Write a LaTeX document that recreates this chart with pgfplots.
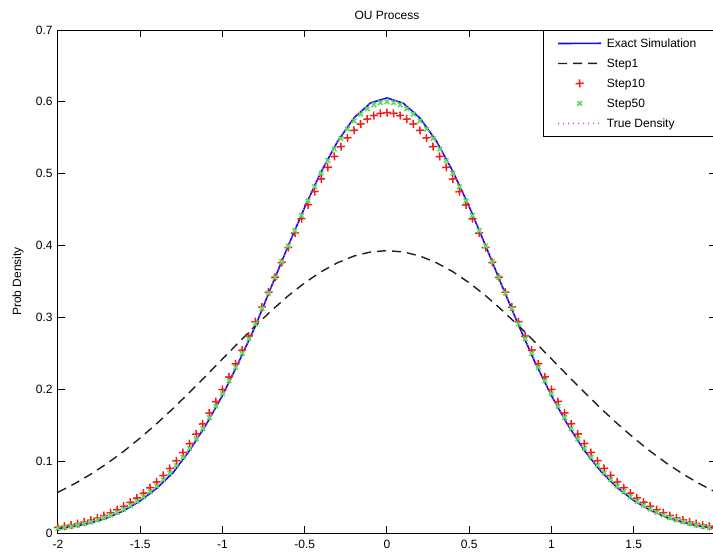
\documentclass[border=0pt]{standalone}
\usepackage{pgfplots}
\pgfplotsset{compat=1.18}
\usepackage{pgfplotstable}
\usepackage{fontspec}
\setmainfont{Liberation Sans}

\definecolor{mblue}{rgb}{0.05,0.05,0.95}
\definecolor{mred}{rgb}{0.97,0.1,0.1}
\definecolor{mgreen}{rgb}{0.35,0.88,0.35}
\definecolor{mmag}{rgb}{0.95,0.2,0.95}
\definecolor{mdash}{rgb}{0.12,0.12,0.12}

\pgfplotstableread{
x e t s1
-2.0 0.0058 0.0060 0.0567
-1.9 0.0092 0.0095 0.0685
-1.8 0.0140 0.0145 0.0819
-1.7 0.0212 0.0217 0.0970
-1.6 0.0310 0.0317 0.1138
-1.5 0.0448 0.0453 0.1323
-1.4 0.0622 0.0633 0.1522
-1.3 0.0840 0.0864 0.1734
-1.2 0.1150 0.1151 0.1958
-1.1 0.1505 0.1501 0.2188
-1.0 0.1915 0.1912 0.2422
-0.9 0.2385 0.2380 0.2656
-0.8 0.2880 0.2894 0.2883
-0.7 0.3445 0.3440 0.3100
-0.6 0.4000 0.3996 0.3302
-0.5 0.4535 0.4536 0.3482
-0.4 0.5030 0.5032 0.3637
-0.3 0.5450 0.5454 0.3762
-0.2 0.5780 0.5778 0.3855
-0.1 0.5985 0.5981 0.3911
0.0 0.6055 0.6050 0.3930
0.1 0.5980 0.5981 0.3911
0.2 0.5775 0.5778 0.3855
0.3 0.5455 0.5454 0.3762
0.4 0.5035 0.5032 0.3637
0.5 0.4540 0.4536 0.3482
0.6 0.3995 0.3996 0.3302
0.7 0.3435 0.3440 0.3100
0.8 0.2890 0.2894 0.2883
0.9 0.2375 0.2380 0.2656
1.0 0.1910 0.1912 0.2422
1.1 0.1500 0.1501 0.2188
1.2 0.1148 0.1151 0.1958
1.3 0.0858 0.0864 0.1734
1.4 0.0630 0.0633 0.1522
1.5 0.0452 0.0453 0.1323
1.6 0.0318 0.0317 0.1138
1.7 0.0215 0.0217 0.0970
1.8 0.0146 0.0145 0.0819
1.9 0.0094 0.0095 0.0685
2.0 0.0061 0.0060 0.0567
}\linedata

\pgfplotstableread{
x s10 s50
-2.00 0.0079 0.0065
-1.96 0.0094 0.0078
-1.92 0.0111 0.0093
-1.88 0.0131 0.0110
-1.84 0.0154 0.0131
-1.80 0.0180 0.0154
-1.76 0.0209 0.0181
-1.72 0.0243 0.0212
-1.68 0.0282 0.0247
-1.64 0.0325 0.0287
-1.60 0.0373 0.0332
-1.56 0.0428 0.0383
-1.52 0.0488 0.0440
-1.48 0.0555 0.0504
-1.44 0.0630 0.0575
-1.40 0.0711 0.0654
-1.36 0.0801 0.0741
-1.32 0.0899 0.0837
-1.28 0.1005 0.0941
-1.24 0.1120 0.1055
-1.20 0.1244 0.1178
-1.16 0.1377 0.1310
-1.12 0.1519 0.1453
-1.08 0.1670 0.1605
-1.04 0.1829 0.1766
-1.00 0.1997 0.1937
-0.96 0.2172 0.2117
-0.92 0.2355 0.2304
-0.88 0.2545 0.2500
-0.84 0.2740 0.2702
-0.80 0.2940 0.2910
-0.76 0.3144 0.3123
-0.72 0.3351 0.3339
-0.68 0.3559 0.3557
-0.64 0.3766 0.3776
-0.60 0.3973 0.3994
-0.56 0.4176 0.4209
-0.52 0.4374 0.4419
-0.48 0.4567 0.4624
-0.44 0.4751 0.4820
-0.40 0.4926 0.5007
-0.36 0.5089 0.5182
-0.32 0.5240 0.5344
-0.28 0.5377 0.5491
-0.24 0.5499 0.5622
-0.20 0.5604 0.5735
-0.16 0.5691 0.5829
-0.12 0.5760 0.5903
-0.08 0.5810 0.5957
-0.04 0.5840 0.5989
0.00 0.5850 0.6000
0.04 0.5840 0.5989
0.08 0.5810 0.5957
0.12 0.5760 0.5903
0.16 0.5691 0.5829
0.20 0.5604 0.5735
0.24 0.5499 0.5622
0.28 0.5377 0.5491
0.32 0.5240 0.5344
0.36 0.5089 0.5182
0.40 0.4926 0.5007
0.44 0.4751 0.4820
0.48 0.4567 0.4624
0.52 0.4374 0.4419
0.56 0.4176 0.4209
0.60 0.3973 0.3994
0.64 0.3766 0.3776
0.68 0.3559 0.3557
0.72 0.3351 0.3339
0.76 0.3144 0.3123
0.80 0.2940 0.2910
0.84 0.2740 0.2702
0.88 0.2545 0.2500
0.92 0.2355 0.2304
0.96 0.2172 0.2117
1.00 0.1997 0.1937
1.04 0.1829 0.1766
1.08 0.1670 0.1605
1.12 0.1519 0.1453
1.16 0.1377 0.1310
1.20 0.1244 0.1178
1.24 0.1120 0.1055
1.28 0.1005 0.0941
1.32 0.0899 0.0837
1.36 0.0801 0.0741
1.40 0.0711 0.0654
1.44 0.0630 0.0575
1.48 0.0555 0.0504
1.52 0.0488 0.0440
1.56 0.0428 0.0383
1.60 0.0373 0.0332
1.64 0.0325 0.0287
1.68 0.0282 0.0247
1.72 0.0243 0.0212
1.76 0.0209 0.0181
1.80 0.0180 0.0154
1.84 0.0154 0.0131
1.88 0.0131 0.0110
1.92 0.0111 0.0093
1.96 0.0094 0.0078
2.00 0.0079 0.0065
}\markdata

\newcommand{\smallfont}{\fontsize{6}{7}\selectfont}

\begin{document}
\begin{tikzpicture}
\path[use as bounding box] (-29pt,-10.5pt) rectangle (327.5pt,266.5pt);
\clip (-29pt,-10.5pt) rectangle (327.5pt,266.5pt);
\begin{axis}[
  at={(0pt,0pt)}, anchor=south west,
  width=329pt, height=251.5pt, scale only axis,
  xmin=-2, xmax=2, ymin=0, ymax=0.7,
  xtick={-2,-1.5,-1,-0.5,0,0.5,1,1.5},
  ytick={0,0.1,0.2,0.3,0.4,0.5,0.6,0.7},
  tick align=inside, major tick length=3.5pt,
  axis line style={line width=0.5pt},
  every tick/.style={black, line width=0.5pt},
  tick label style={font=\smallfont},
  /pgf/number format/assume math mode=true,
  yticklabel style={/pgf/number format/fixed, /pgf/number format/precision=1, inner xsep=0pt, xshift=-2.5pt},
  xticklabel style={/pgf/number format/fixed, inner ysep=0pt, yshift=-3.5pt},
  title={OU Process},
  title style={font=\smallfont, at={(axis description cs:0.5,1)}, anchor=center, yshift=1.5pt},
  ylabel={Prob Density},
  ylabel style={font=\smallfont, at={(axis description cs:-0.0608,0.5)}, anchor=center},
  legend cell align=left,
  legend image code/.code={\draw[mark repeat=2,mark phase=2,#1] plot coordinates {(0pt,-0.06pt) (10.75pt,0pt) (21.5pt,0.06pt)};},
  legend style={at={(rel axis cs:0.737,1)}, anchor=north west,
    draw, font=\smallfont,
    inner xsep=7pt, inner ysep=1.5pt, row sep=0pt, column sep=2.5pt,
    nodes={inner sep=0pt, text height=7.15pt, text depth=2.85pt}},
]
\addplot[color=mblue, line width=0.8pt] table[x=x, y=e] {\linedata};
\addlegendentry{Exact Simulation\hspace*{8pt}}
\addplot[color=mdash, line width=0.7pt, dash pattern=on 4.5pt off 3pt] table[x=x, y=s1] {\linedata};
\addlegendentry{Step1}
\addplot[color=mred, only marks, mark=+, mark size=2pt, line width=0.75pt, mark options={rotate=3}] table[x=x, y=s10] {\markdata};
\addlegendentry{Step10}
\addplot[color=mgreen, only marks, mark=x, mark size=1.6pt, line width=0.8pt] table[x=x, y=s50] {\markdata};
\addlegendentry{Step50}
\addplot[color=mmag, line width=0.8pt, dash pattern=on 0.5pt off 2pt] table[x=x, y=t] {\linedata};
\addlegendentry{True Density}
\end{axis}
\end{tikzpicture}
\end{document}
